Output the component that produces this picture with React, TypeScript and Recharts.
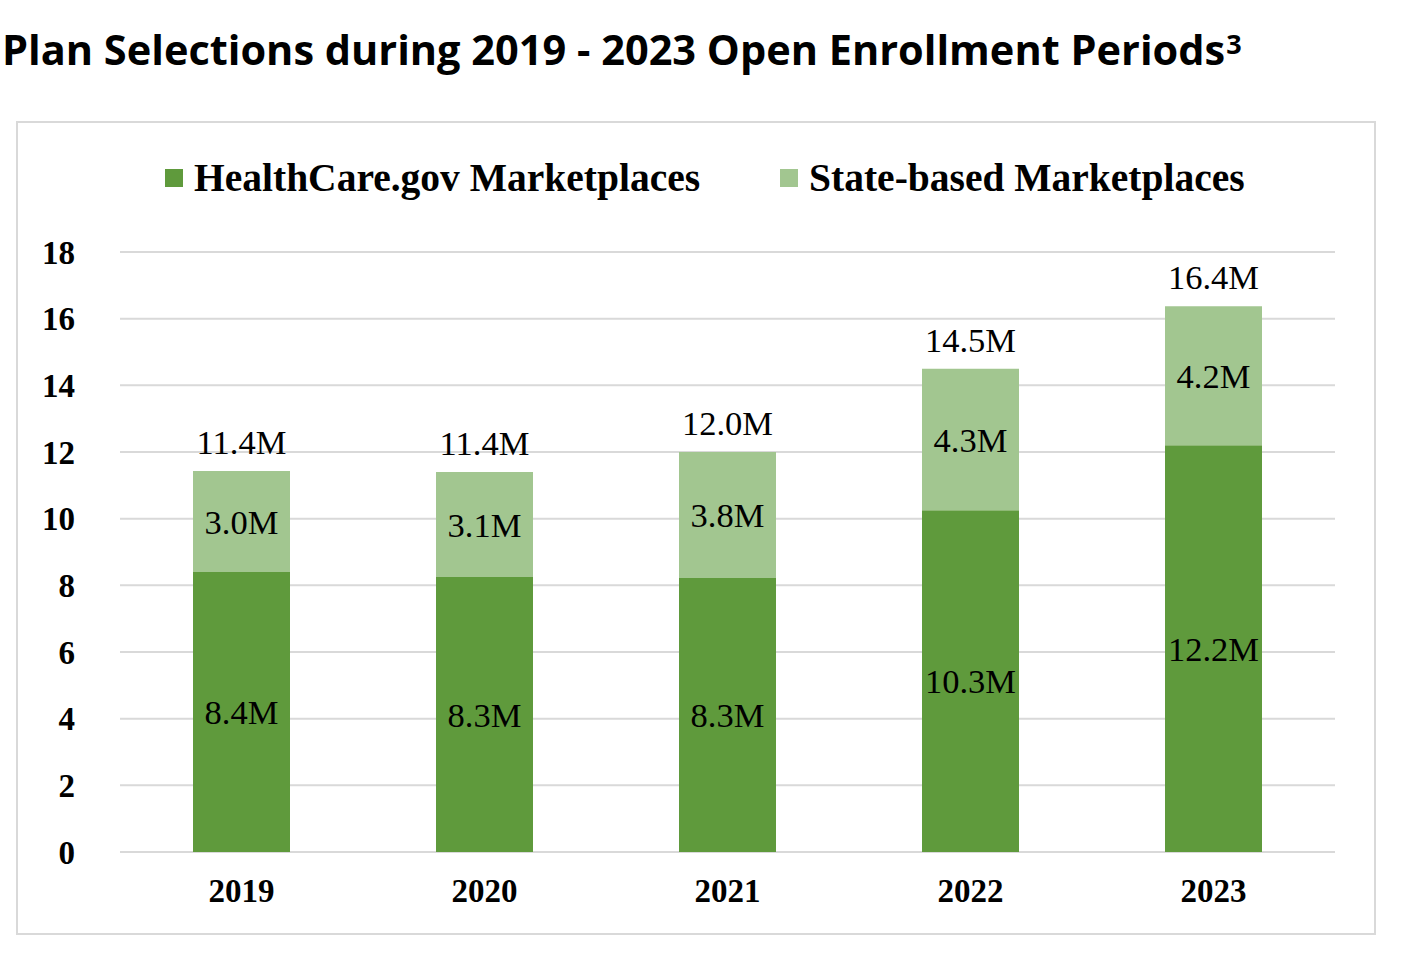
import { BarChart, Bar, XAxis, YAxis, CartesianGrid, LabelList } from "recharts";

const years = ["2019", "2020", "2021", "2022", "2023"];
const healthcareGov = [8.4, 8.25, 8.22, 10.25, 12.2];
const stateBased = [3.03, 3.15, 3.78, 4.25, 4.17];
const healthcareLabels = ["8.4M", "8.3M", "8.3M", "10.3M", "12.2M"];
const stateLabels = ["3.0M", "3.1M", "3.8M", "4.3M", "4.2M"];
const totalLabels = ["11.4M", "11.4M", "12.0M", "14.5M", "16.4M"];
const yTicks = [0, 2, 4, 6, 8, 10, 12, 14, 16, 18];
const seriesNames = ["HealthCare.gov Marketplaces", "State-based Marketplaces"];

const DARK = "#5f9a3c";
const LIGHT = "#a2c690";
const SERIF = "'Liberation Serif', 'Times New Roman', serif";

const data = years.map((year, i) => ({
  year,
  hc: healthcareGov[i],
  sb: stateBased[i],
  hcLabel: healthcareLabels[i],
  sbLabel: stateLabels[i],
  totalLabel: totalLabels[i],
}));

function ChartLegend() {
  const colors = [DARK, LIGHT];
  return (
    <div
      style={{
        position: "absolute",
        left: 165,
        top: 155,
        display: "flex",
        gap: 80,
        fontFamily: SERIF,
        fontWeight: 700,
        fontSize: 39.5,
        lineHeight: "46px",
        whiteSpace: "nowrap",
      }}
    >
      {seriesNames.map((name, i) => (
        <div key={name} style={{ display: "flex", alignItems: "center" }}>
          <span style={{ width: 18, height: 18, background: colors[i], marginRight: 11, display: "inline-block" }} />
          <span>{name}</span>
        </div>
      ))}
    </div>
  );
}

export default function App() {
  const labelStyle = { fontFamily: SERIF, fontSize: 34.5 };
  return (
    <div style={{ position: "absolute", left: 0, top: 0, width: 1415, height: 966, background: "#fff" }}>
      <div
        style={{
          position: "absolute",
          left: 2,
          top: 28,
          fontFamily: "'Open Sans', sans-serif",
          fontWeight: 700,
          fontSize: 41.5,
          lineHeight: "42px",
          whiteSpace: "nowrap",
          color: "#000",
        }}
      >
        Plan Selections during 2019 - 2023 Open Enrollment Periods
        <sup style={{ fontSize: 27, verticalAlign: "top", position: "relative", top: -5, marginLeft: 1 }}>3</sup>
      </div>
      <div
        style={{
          position: "absolute",
          left: 16,
          top: 121,
          width: 1360,
          height: 814,
          boxSizing: "border-box",
          border: "2px solid #d9d9d9",
        }}
      />
      <div style={{ position: "absolute", left: 16, top: 121 }}>
        <BarChart width={1360} height={814} data={data} margin={{ top: 131, right: 41, left: 0, bottom: 0 }}>
          <CartesianGrid vertical={false} stroke="#d9d9d9" strokeWidth={2} />
          <XAxis
            dataKey="year"
            height={83}
            axisLine={false}
            tickLine={false}
            tickSize={0}
            tickMargin={27}
            tick={{ fill: "#000", fontFamily: SERIF, fontWeight: 700, fontSize: 33 }}
          />
          <YAxis
            width={104}
            domain={[0, 18]}
            ticks={yTicks}
            axisLine={false}
            tickLine={false}
            tickSize={0}
            tickMargin={45}
            tick={{ fill: "#000", fontFamily: SERIF, fontWeight: 700, fontSize: 33 }}
          />
          <Bar dataKey="hc" stackId="a" fill={DARK} barSize={97} isAnimationActive={false}>
            <LabelList dataKey="hcLabel" position="center" fill="#000" style={labelStyle} />
          </Bar>
          <Bar dataKey="sb" stackId="a" fill={LIGHT} barSize={97} isAnimationActive={false}>
            <LabelList dataKey="sbLabel" position="center" fill="#000" style={labelStyle} />
            <LabelList dataKey="totalLabel" position="top" offset={17} fill="#000" style={labelStyle} />
          </Bar>
        </BarChart>
      </div>
      <ChartLegend />
    </div>
  );
}
